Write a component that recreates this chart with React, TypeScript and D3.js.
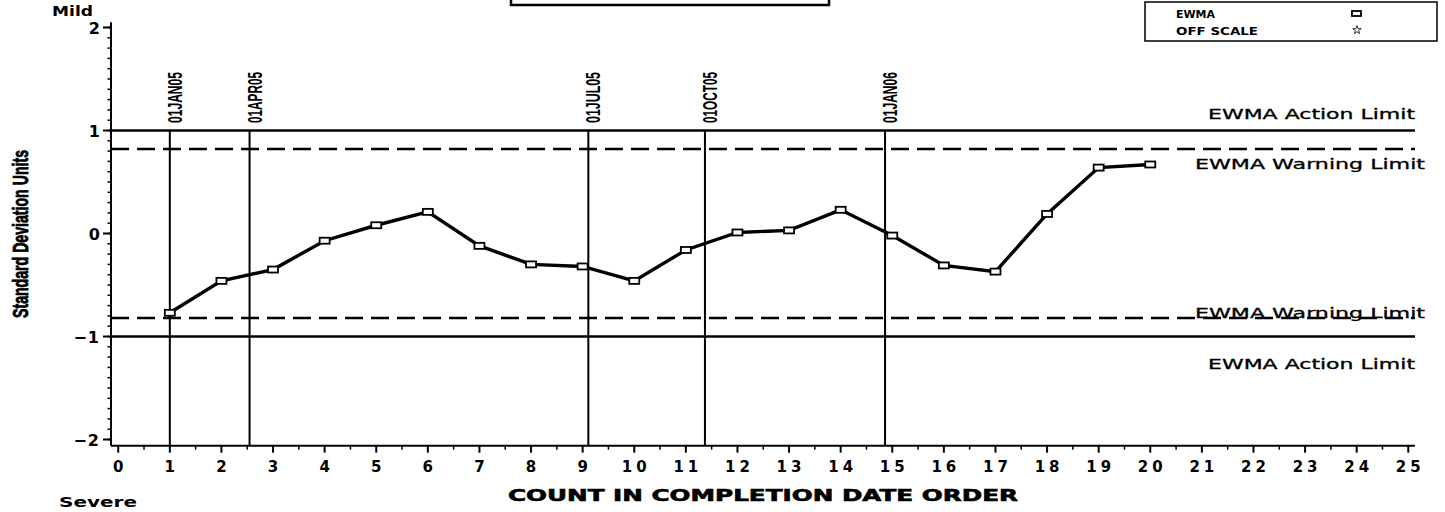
import React from "react";
import * as d3 from "d3";

const counts = [1, 2, 3, 4, 5, 6, 7, 8, 9, 10, 11, 12, 13, 14, 15, 16, 17, 18, 19, 20];
const ewma = [-0.77, -0.46, -0.35, -0.07, 0.08, 0.21, -0.12, -0.3, -0.32, -0.46, -0.16, 0.01, 0.03, 0.23, -0.02, -0.31, -0.37, 0.19, 0.64, 0.67];
const xTicks = d3.range(0, 26);
const yTicks = [-2, -1, 0, 1, 2];
const dateLabels = ["01JAN05", "01APR05", "01JUL05", "01OCT05", "01JAN06"];
const datePositions = [1.0, 2.545, 9.11, 11.37, 14.86];
const limits = [
  { value: 1, label: "EWMA Action Limit", dashed: false },
  { value: 0.82, label: "EWMA Warning Limit", dashed: true },
  { value: -0.82, label: "EWMA Warning Limit", dashed: true },
  { value: -1, label: "EWMA Action Limit", dashed: false },
];
const legendItems = ["EWMA", "OFF SCALE"];

const W = 1445;
const H = 512;
const wide = "'DejaVu Sans', sans-serif";
const narrow = "'Liberation Sans Narrow', 'Liberation Sans', sans-serif";

export default function App() {
  const x = d3.scaleLinear().domain([-0.14, 25.13]).range([111, 1415]);
  const y = d3.scaleLinear().domain([-1, 1]).range([336.5, 130.5]);
  const yTop = y(2.05);
  const yBot = y(-2.06);
  const line = d3
    .line<number>()
    .x((_, i) => x(counts[i]))
    .y((d) => y(d));
  const yMinor = d3.range(-20, 21).map((v) => v / 10);
  const xMinor = d3.range(0, 25).map((v) => v + 0.5);

  const limitLabelY = (v: number) => {
    if (v === 1) return y(1) - 12;
    if (v === -1) return y(-1) + 32;
    if (v > 0) return y(v) + 20;
    return y(v) + 0;
  };

  return (
    <svg width={W} height={H} style={{ position: "absolute", left: 0, top: 0, background: "#fff" }}>
      <rect x={0} y={0} width={W} height={H} fill="#fff" />
      {/* title box (cut off) */}
      <rect x={511} y={-20} width={318} height={25} fill="none" stroke="#000" strokeWidth={2.5} />

      {/* legend */}
      <rect x={1145} y={2} width={292} height={39} fill="none" stroke="#000" strokeWidth={1.5} />
      {legendItems.map((t, i) => (
        <text key={t} x={1176} y={18 + i * 17} fontFamily={wide} fontWeight="bold" fontSize={11}
          textLength={t === "EWMA" ? 39 : 82} lengthAdjust="spacingAndGlyphs">{t}</text>
      ))}
      <rect x={1352} y={11} width={9} height={5} fill="#fff" stroke="#000" strokeWidth={1.8} />
      <path
        d={d3.symbol().type(d3.symbolStar).size(22)() || ""}
        transform={`translate(1357,30)`}
        fill="#fff"
        stroke="#000"
        strokeWidth={0.8}
      />

      {/* Mild / Severe */}
      <text x={52} y={16} fontFamily={wide} fontSize={14} fontWeight="bold" textLength={41} lengthAdjust="spacingAndGlyphs">Mild</text>
      <text x={59} y={507} fontFamily={wide} fontSize={14} fontWeight="bold" textLength={78} lengthAdjust="spacingAndGlyphs">Severe</text>

      {/* y axis */}
      <line x1={111} x2={111} y1={yTop} y2={yBot} stroke="#000" strokeWidth={2} />
      {yMinor.map((v) => (
        <line key={"ym" + v} x1={107.5} x2={111} y1={y(v)} y2={y(v)} stroke="#000" strokeWidth={1.5} />
      ))}
      {yTicks.map((v) => (
        <g key={"yt" + v}>
          <line x1={103} x2={111} y1={y(v)} y2={y(v)} stroke="#000" strokeWidth={2} />
          <text x={100} y={y(v) + 6} textAnchor="end" fontFamily={wide} fontSize={16} fontWeight="bold"
            letterSpacing={v < 0 ? 1 : 0}>
            {v < 0 ? "\u2212" + Math.abs(v) : String(v)}
          </text>
        </g>
      ))}
      <text
        transform={`translate(28,234) rotate(-90)`}
        textAnchor="middle"
        fontFamily={narrow}
        fontWeight="bold"
        fontSize={22}
        stroke="#000"
        strokeWidth={0.8}
        textLength={168}
        lengthAdjust="spacingAndGlyphs"
      >
        Standard Deviation Units
      </text>

      {/* x axis */}
      <line x1={111} x2={1415} y1={yBot} y2={yBot} stroke="#000" strokeWidth={2} />
      {xMinor.map((v) => (
        <line key={"xm" + v} x1={x(v)} x2={x(v)} y1={yBot} y2={yBot + 4} stroke="#000" strokeWidth={1.5} />
      ))}
      {xTicks.map((v) => (
        <g key={"xt" + v}>
          <line x1={x(v)} x2={x(v)} y1={yBot} y2={yBot + 7} stroke="#000" strokeWidth={2} />
          <text x={x(v) + (v >= 10 ? 2 : 0)} y={472} textAnchor="middle" fontFamily={wide} fontSize={15} fontWeight="bold"
            letterSpacing={v >= 10 ? 4 : 0}>
            {v}
          </text>
        </g>
      ))}
      <text x={508} y={501} fontFamily={wide} fontWeight="900" fontSize={16} stroke="#000" strokeWidth={0.6}
        textLength={510} lengthAdjust="spacingAndGlyphs">
        COUNT IN COMPLETION DATE ORDER
      </text>

      {/* limit lines */}
      {limits.map((l, i) => (
        <g key={"lim" + i}>
          <line x1={111} x2={1415} y1={y(l.value)} y2={y(l.value)} stroke="#000" strokeWidth={2.5}
            strokeDasharray={l.dashed ? "18 8" : undefined} />
          <text
            x={l.dashed ? 1425 : 1415}
            y={limitLabelY(l.value)}
            textAnchor="end"
            fontFamily={wide}
            fontSize={14}
            stroke="#000"
            strokeWidth={0.3}
            textLength={l.dashed ? 230 : 207}
            lengthAdjust="spacingAndGlyphs"
          >
            {l.label}
          </text>
        </g>
      ))}

      {/* date reference lines */}
      {dateLabels.map((d, i) => (
        <g key={d}>
          <line x1={x(datePositions[i])} x2={x(datePositions[i])} y1={y(1)} y2={yBot} stroke="#000" strokeWidth={2} />
          <text
            transform={`translate(${x(datePositions[i]) + 12},123) rotate(-90)`}
            fontFamily={narrow}
            fontSize={20}
            fontWeight="bold"
            textLength={51}
            lengthAdjust="spacingAndGlyphs"
          >
            {d}
          </text>
        </g>
      ))}

      {/* EWMA series */}
      <path d={line(ewma) || ""} fill="none" stroke="#000" strokeWidth={3.4} />
      {ewma.map((v, i) => (
        <rect key={"pt" + i} x={x(counts[i]) - 5} y={y(v) - 3} width={10} height={6} fill="#fff" stroke="#000" strokeWidth={1.8} />
      ))}
    </svg>
  );
}
